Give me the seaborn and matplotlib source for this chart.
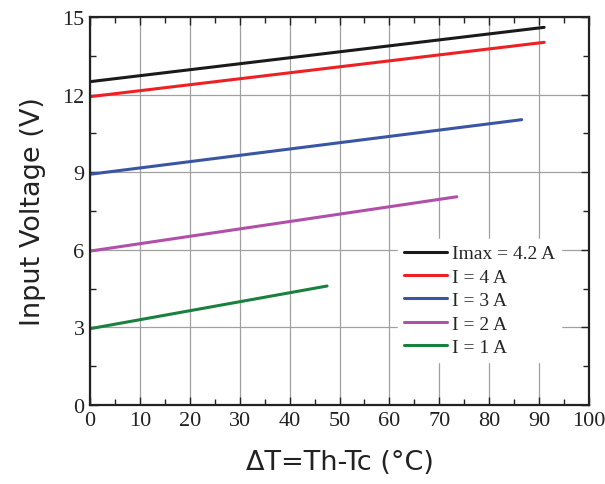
import matplotlib
matplotlib.use("Agg")
import matplotlib.pyplot as plt
import seaborn as sns
import pandas as pd
from matplotlib.ticker import MultipleLocator

labels = ["Imax = 4.2 A", "I = 4 A", "I = 3 A", "I = 2 A", "I = 1 A"]
colors = ["#1a1a1a", "#ee2024", "#3a55a4", "#b050a8", "#1a8040"]
x_start = [0, 0, 0, 0, 0]
x_end = [91, 91, 86.5, 73.5, 47.5]
v_start = [12.5, 11.92, 8.92, 5.95, 2.95]
v_end = [14.6, 14.02, 11.03, 8.05, 4.6]

rows = []
for lab, xs, xe, vs, ve in zip(labels, x_start, x_end, v_start, v_end):
    rows.append({"dT": xs, "V": vs, "series": lab})
    rows.append({"dT": xe, "V": ve, "series": lab})
df = pd.DataFrame(rows)

sns.set_style("ticks")
plt.rcParams["font.family"] = ["Liberation Serif", "DejaVu Serif"]

fig = plt.figure(figsize=(6.05, 4.85), dpi=100)
ax = fig.add_axes([0.1488, 0.1629, 0.8248, 0.8])

sns.lineplot(data=df, x="dT", y="V", hue="series", hue_order=labels,
             palette=colors, linewidth=2.2, ax=ax, legend=True)

ax.set_xlim(0, 100)
ax.set_ylim(0, 15)
ax.xaxis.set_major_locator(MultipleLocator(10))
ax.xaxis.set_minor_locator(MultipleLocator(5))
ax.yaxis.set_major_locator(MultipleLocator(3))
ax.yaxis.set_minor_locator(MultipleLocator(1.5))
ax.grid(True, which="major", color="#a0a0a0", linewidth=0.9)
ax.tick_params(which="both", direction="in", top=True, right=True,
               labelsize=16, colors="#222222", pad=4)
ax.tick_params(which="major", length=6, width=1)
ax.tick_params(which="minor", length=4, width=1)
for s in ax.spines.values():
    s.set_linewidth(1.6)
    s.set_color("#222222")

lab_font = dict(family=["DejaVu Sans"], size=19.5, color="#222222")
ax.set_xlabel("ΔT=Th-Tc (°C)", fontdict=lab_font, labelpad=14)
ax.set_ylabel("Input Voltage (V)", fontdict=lab_font, labelpad=12)

leg = ax.legend(loc="upper left", bbox_to_anchor=(0.618, 0.428), frameon=True,
                fontsize=14, handlelength=2.2, handletextpad=0.25,
                labelspacing=0.3, borderpad=0.3, borderaxespad=0)
leg.get_frame().set_edgecolor("white")
leg.get_frame().set_facecolor("white")
leg.get_frame().set_alpha(1)
leg.get_frame().set_boxstyle("square", pad=0)

fig.savefig("out.png", dpi=100)
